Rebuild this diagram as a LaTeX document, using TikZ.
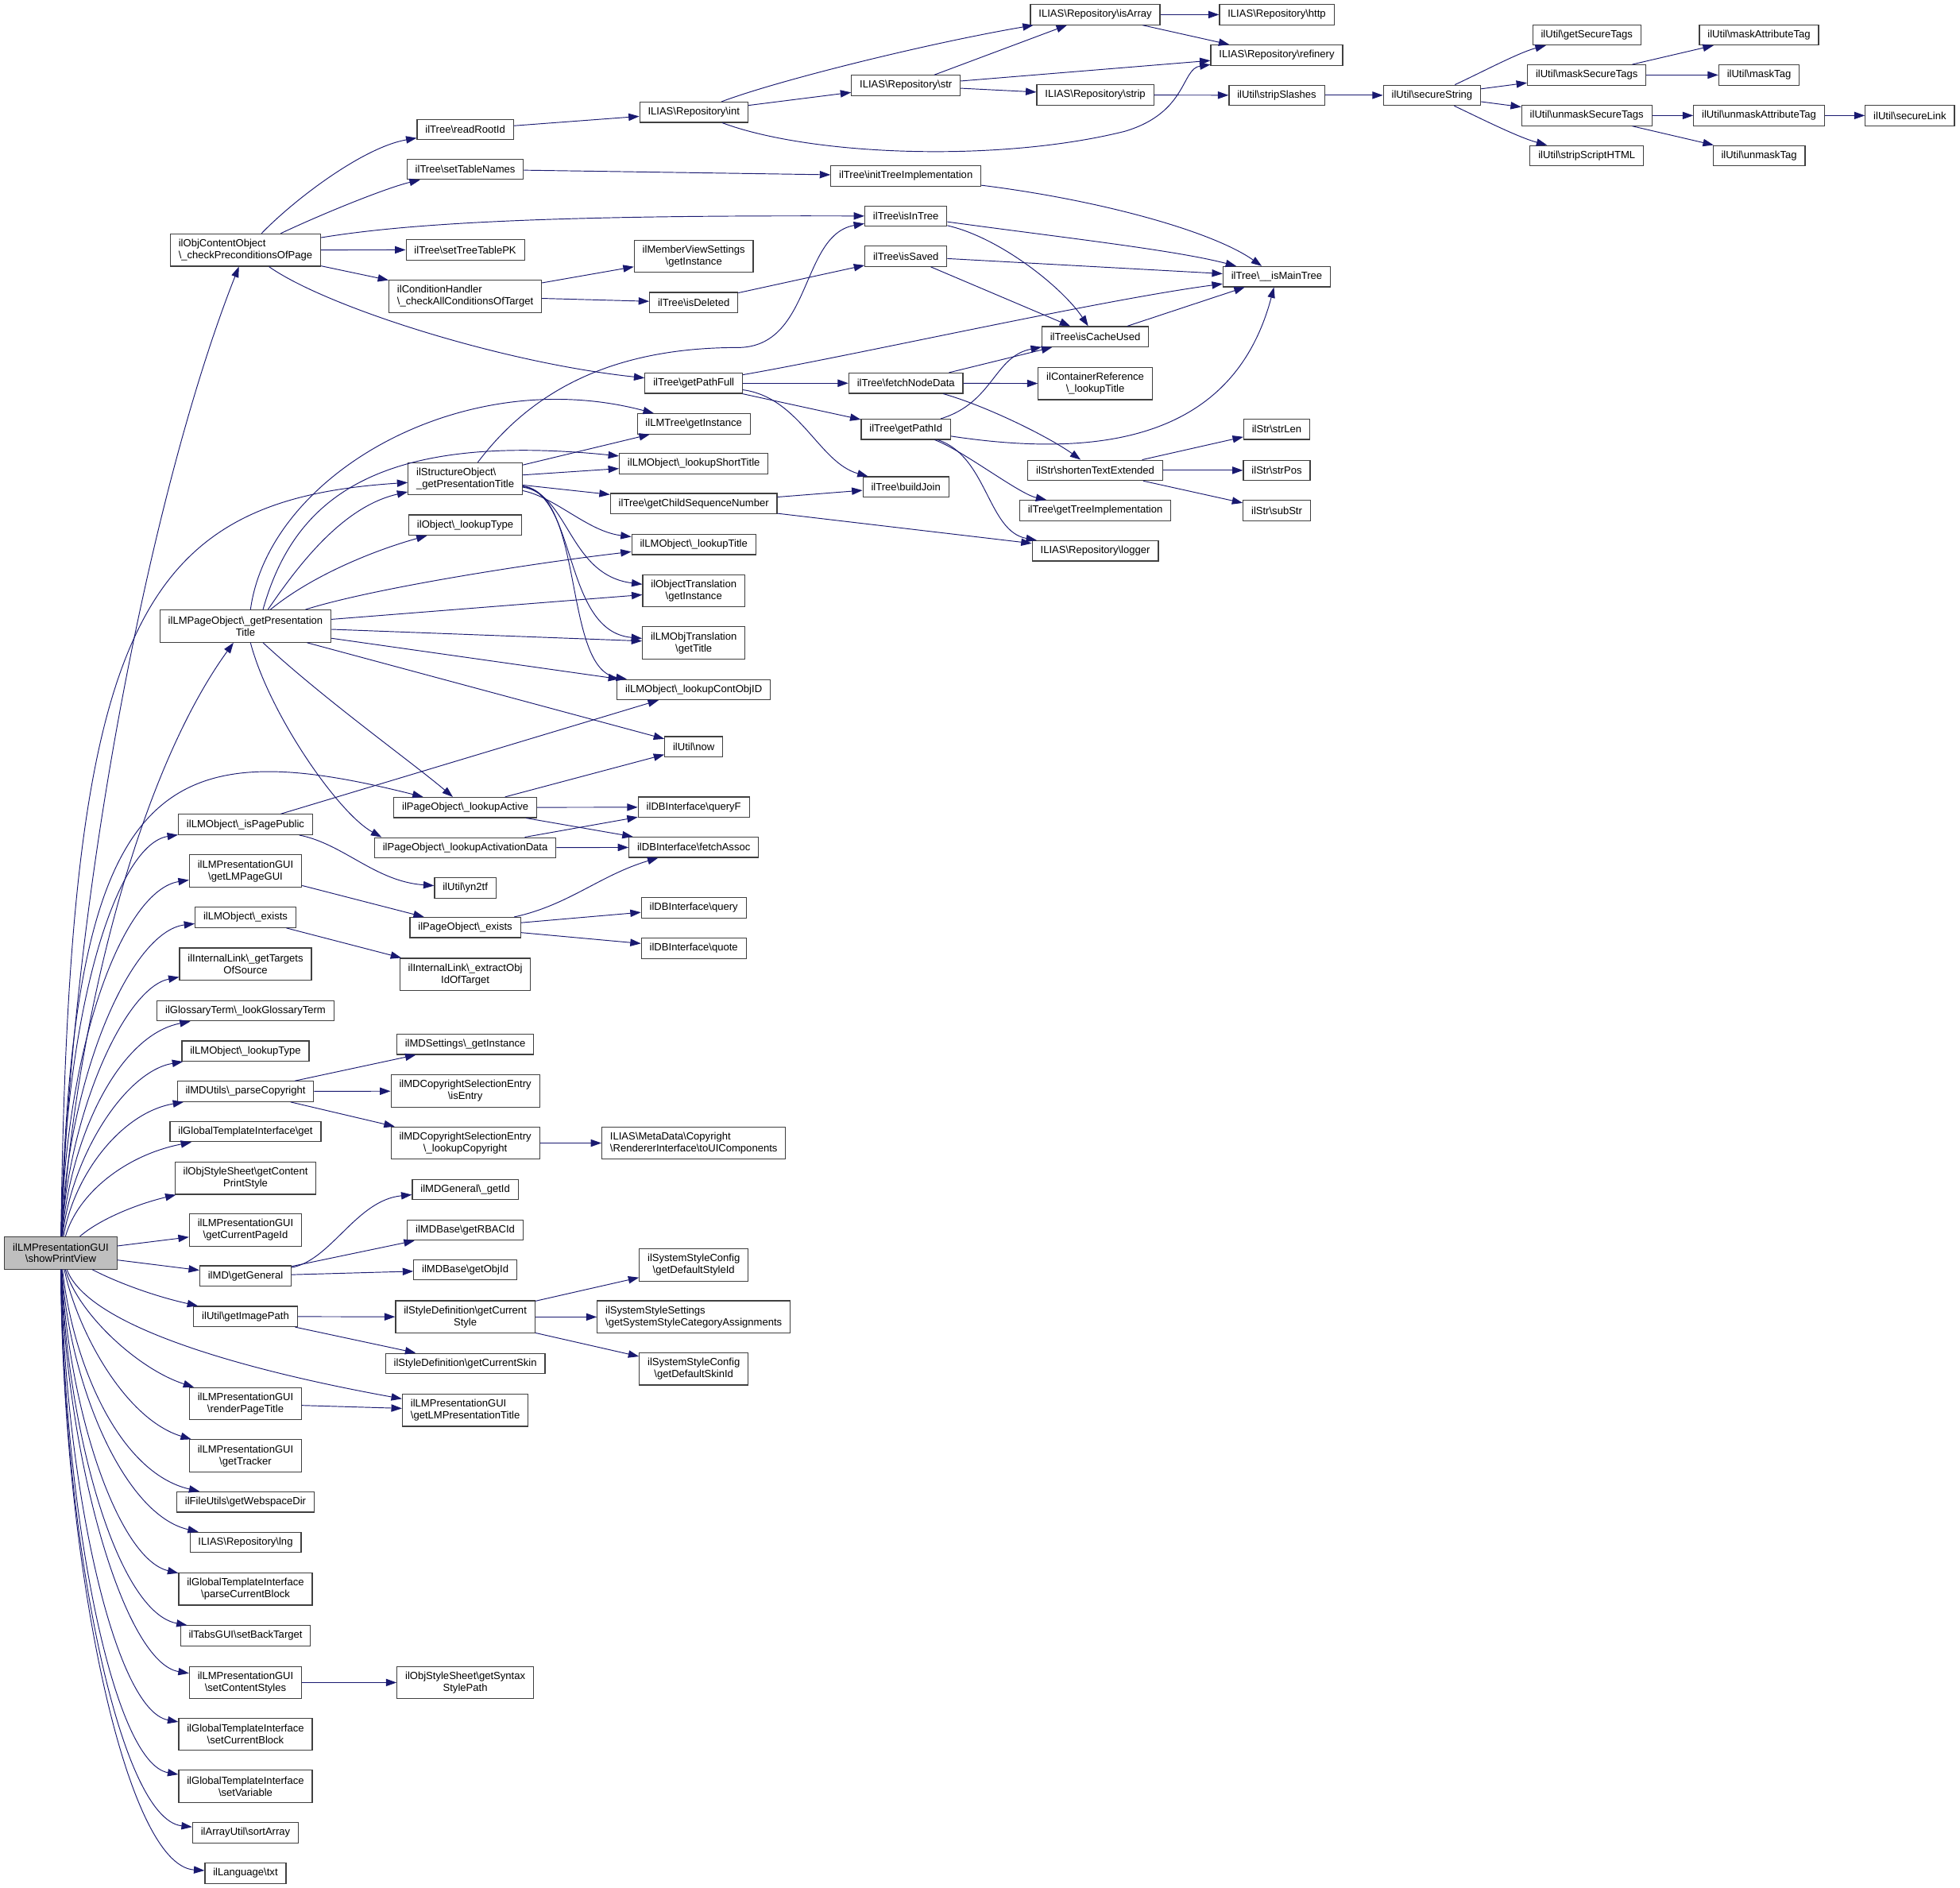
\documentclass[tikz,border=0pt]{standalone}
\usepackage{fontspec}
\setmainfont{Liberation Sans}
\usetikzlibrary{arrows.meta}
\definecolor{edgeblue}{HTML}{191970}
\definecolor{boxline}{HTML}{404040}
\definecolor{rootgray}{HTML}{BFBFBF}
\newcommand{\bsl}{\textbackslash}

\begin{document}
\begin{tikzpicture}[x=1pt,y=-1pt,
  fnbox/.style={draw=boxline,line width=0.75pt,fill=white,align=center,inner xsep=6.6pt,inner ysep=2pt,minimum height=16.2pt,font=\fontsize{8.3}{9.5}\selectfont},
  fntwo/.style={fnbox,minimum height=25.8pt},
  callarr/.style={draw=edgeblue,line width=0.6pt,-{Triangle[length=8.5pt,width=5.9pt]}}]
  \useasboundingbox[fill=white] (0,0) rectangle (1568,1510);

  % caller
  \node[fntwo,fill=rootgray] (showPrintView) at (48.6,1002.2) {ilLMPresentationGUI\\\bsl showPrintView};

  % first level
  \node[fntwo,align=left] (checkPrecond) at (196.4,200) {ilObjContentObject\\\bsl\_checkPreconditionsOfPage};
  \node[fntwo] (getPresTitle) at (196.4,500.8) {ilLMPageObject\bsl\_getPresentation\\Title};
  \node[fnbox] (isPagePublic) at (196.4,659.5) {ilLMObject\bsl\_isPagePublic};
  \node[fntwo] (getLMPageGUI) at (196.4,696.7) {ilLMPresentationGUI\\\bsl getLMPageGUI};
  \node[fnbox] (lmExists) at (196.4,733.8) {ilLMObject\bsl\_exists};
  \node[fntwo] (getTargets) at (196.4,771.1) {ilInternalLink\bsl\_getTargets\\OfSource};
  \node[fnbox] (lookGlossary) at (196.4,808.5) {ilGlossaryTerm\bsl\_lookGlossaryTerm};
  \node[fnbox] (lmLookupType) at (196.4,840.7) {ilLMObject\bsl\_lookupType};
  \node[fnbox] (parseCopyright) at (196.4,873) {ilMDUtils\bsl\_parseCopyright};
  \node[fnbox] (tplGet) at (196.4,905.1) {ilGlobalTemplateInterface\bsl get};
  \node[fntwo] (printStyle) at (196.4,942.4) {ilObjStyleSheet\bsl getContent\\PrintStyle};
  \node[fntwo] (getCurPageId) at (196.4,983.9) {ilLMPresentationGUI\\\bsl getCurrentPageId};
  \node[fnbox] (getGeneral) at (196.4,1020.6) {ilMD\bsl getGeneral};
  \node[fnbox] (getImagePath) at (196.4,1053) {ilUtil\bsl getImagePath};
  \node[fntwo] (renderPageTitle) at (196.4,1122.8) {ilLMPresentationGUI\\\bsl renderPageTitle};
  \node[fntwo] (getTracker) at (196.4,1164.5) {ilLMPresentationGUI\\\bsl getTracker};
  \node[fnbox] (webspaceDir) at (196.4,1201.4) {ilFileUtils\bsl getWebspaceDir};
  \node[fnbox] (lng) at (196.4,1233.7) {ILIAS\bsl Repository\bsl lng};
  \node[fntwo] (parseBlock) at (196.4,1271) {ilGlobalTemplateInterface\\\bsl parseCurrentBlock};
  \node[fnbox] (setBackTarget) at (196.4,1308.4) {ilTabsGUI\bsl setBackTarget};
  \node[fntwo] (setContentStyles) at (196.4,1345.8) {ilLMPresentationGUI\\\bsl setContentStyles};
  \node[fntwo] (setCurBlock) at (196.4,1387.1) {ilGlobalTemplateInterface\\\bsl setCurrentBlock};
  \node[fntwo] (setVariable) at (196.4,1428.8) {ilGlobalTemplateInterface\\\bsl setVariable};
  \node[fnbox] (sortArray) at (196.4,1465.9) {ilArrayUtil\bsl sortArray};
  \node[fnbox] (txt) at (196.4,1498.3) {ilLanguage\bsl txt};

  % second level
  \node[fnbox] (readRootId) at (372.2,103.5) {ilTree\bsl readRootId};
  \node[fnbox] (setTableNames) at (372.2,135.4) {ilTree\bsl setTableNames};
  \node[fnbox] (setTreeTablePK) at (372.2,199.8) {ilTree\bsl setTreeTablePK};
  \node[fntwo,align=left] (checkAllCond) at (372.2,237) {ilConditionHandler\\\bsl\_checkAllConditionsOfTarget};
  \node[fntwo,align=left] (structTitle) at (372.2,383) {ilStructureObject\bsl\\\_getPresentationTitle};
  \node[fnbox] (objLookupType) at (372.2,420) {ilObject\bsl\_lookupType};
  \node[fnbox] (lookupActive) at (372.2,645.9) {ilPageObject\bsl\_lookupActive};
  \node[fnbox] (lookupActData) at (372.2,678.1) {ilPageObject\bsl\_lookupActivationData};
  \node[fnbox] (yn2tf) at (372.2,710.2) {ilUtil\bsl yn2tf};
  \node[fnbox] (pageExists) at (372.2,741.9) {ilPageObject\bsl\_exists};
  \node[fntwo] (extractObj) at (372.2,779.4) {ilInternalLink\bsl\_extractObj\\IdOfTarget};
  \node[fnbox] (mdSettings) at (372.2,835.3) {ilMDSettings\bsl\_getInstance};
  \node[fntwo] (isEntry) at (372.2,872.7) {ilMDCopyrightSelectionEntry\\\bsl isEntry};
  \node[fntwo] (lookupCopyright) at (372.2,914.3) {ilMDCopyrightSelectionEntry\\\bsl\_lookupCopyright};
  \node[fnbox] (mdGetId) at (372.2,951.4) {ilMDGeneral\bsl\_getId};
  \node[fnbox] (getRBACId) at (372.2,983.9) {ilMDBase\bsl getRBACId};
  \node[fnbox] (getObjId) at (372.2,1015.7) {ilMDBase\bsl getObjId};
  \node[fntwo] (getCurStyle) at (372.2,1053.4) {ilStyleDefinition\bsl getCurrent\\Style};
  \node[fnbox] (getCurSkin) at (372.2,1090.6) {ilStyleDefinition\bsl getCurrentSkin};
  \node[fntwo,align=left] (getLMPresTitle) at (372.2,1128) {ilLMPresentationGUI\\\bsl getLMPresentationTitle};
  \node[fntwo] (syntaxPath) at (372.2,1345.8) {ilObjStyleSheet\bsl getSyntax\\StylePath};

  % third level
  \node[fnbox] (repoInt) at (555,89.8) {ILIAS\bsl Repository\bsl int};
  \node[fntwo] (memberView) at (555,205) {ilMemberViewSettings\\\bsl getInstance};
  \node[fnbox] (isDeleted) at (555,242) {ilTree\bsl isDeleted};
  \node[fnbox] (getPathFull) at (555,306.5) {ilTree\bsl getPathFull};
  \node[fnbox] (lmTreeInst) at (555,339) {ilLMTree\bsl getInstance};
  \node[fnbox] (lookupShort) at (555,370.8) {ilLMObject\bsl\_lookupShortTitle};
  \node[fnbox] (childSeq) at (555,402.8) {ilTree\bsl getChildSequenceNumber};
  \node[fnbox] (lookupTitle) at (555,435.5) {ilLMObject\bsl\_lookupTitle};
  \node[fntwo] (objTransInst) at (555,472.5) {ilObjectTranslation\\\bsl getInstance};
  \node[fntwo] (lmObjTransTitle) at (555,514.3) {ilLMObjTranslation\\\bsl getTitle};
  \node[fnbox] (lookupContObj) at (555,551.6) {ilLMObject\bsl\_lookupContObjID};
  \node[fnbox] (now) at (555,597.3) {ilUtil\bsl now};
  \node[fnbox] (queryF) at (555,645.6) {ilDBInterface\bsl queryF};
  \node[fnbox] (fetchAssoc) at (555,677.7) {ilDBInterface\bsl fetchAssoc};
  \node[fnbox] (query) at (555,726.1) {ilDBInterface\bsl query};
  \node[fnbox] (quote) at (555,758.5) {ilDBInterface\bsl quote};
  \node[fntwo,align=left] (toUIComp) at (555,914.3) {ILIAS\bsl MetaData\bsl Copyright\\\bsl RendererInterface\bsl toUIComponents};
  \node[fntwo] (defStyleId) at (555,1011.9) {ilSystemStyleConfig\\\bsl getDefaultStyleId};
  \node[fntwo,align=left] (catAssign) at (555,1053.4) {ilSystemStyleSettings\\\bsl getSystemStyleCategoryAssignments};
  \node[fntwo] (defSkinId) at (555,1094.9) {ilSystemStyleConfig\\\bsl getDefaultSkinId};

  % fourth level
  \node[fnbox] (repoStr) at (724.7,68.4) {ILIAS\bsl Repository\bsl str};
  \node[fnbox] (initTreeImpl) at (724.7,140.7) {ilTree\bsl initTreeImplementation};
  \node[fnbox] (isInTree) at (724.7,172.9) {ilTree\bsl isInTree};
  \node[fnbox] (isSaved) at (724.7,205) {ilTree\bsl isSaved};
  \node[fnbox] (fetchNode) at (724.7,306.5) {ilTree\bsl fetchNodeData};
  \node[fnbox] (getPathId) at (724.7,343.4) {ilTree\bsl getPathId};
  \node[fnbox] (buildJoin) at (724.7,389.5) {ilTree\bsl buildJoin};

  % fifth level
  \node[fnbox] (isArray) at (876.2,11.7) {ILIAS\bsl Repository\bsl isArray};
  \node[fnbox] (repoStrip) at (876.2,76) {ILIAS\bsl Repository\bsl strip};
  \node[fnbox] (isCacheUsed) at (876.2,269.3) {ilTree\bsl isCacheUsed};
  \node[fntwo] (containerRef) at (876.2,306.8) {ilContainerReference\\\bsl\_lookupTitle};
  \node[fnbox] (shortenText) at (876.2,376.2) {ilStr\bsl shortenTextExtended};
  \node[fnbox] (treeImpl) at (876.2,408.3) {ilTree\bsl getTreeImplementation};
  \node[fnbox] (logger) at (876.2,440.6) {ILIAS\bsl Repository\bsl logger};

  % sixth level and beyond
  \node[fnbox] (http) at (1021.4,11.7) {ILIAS\bsl Repository\bsl http};
  \node[fnbox] (refinery) at (1021.4,44.1) {ILIAS\bsl Repository\bsl refinery};
  \node[fnbox] (stripSlashes) at (1021.4,76.2) {ilUtil\bsl stripSlashes};
  \node[fnbox] (isMainTree) at (1021.4,221.3) {ilTree\bsl\_\_isMainTree};
  \node[fnbox] (strLen) at (1021.4,343.4) {ilStr\bsl strLen};
  \node[fnbox] (strPos) at (1021.4,376.2) {ilStr\bsl strPos};
  \node[fnbox] (subStr) at (1021.4,408.3) {ilStr\bsl subStr};
  \node[fnbox] (secureString) at (1145.6,76.2) {ilUtil\bsl secureString};
  \node[fnbox] (getSecureTags) at (1269.4,27.9) {ilUtil\bsl getSecureTags};
  \node[fnbox] (maskSecureTags) at (1269.4,60) {ilUtil\bsl maskSecureTags};
  \node[fnbox] (unmaskSecureTags) at (1269.4,92.4) {ilUtil\bsl unmaskSecureTags};
  \node[fnbox] (stripScript) at (1269.4,124.5) {ilUtil\bsl stripScriptHTML};
  \node[fnbox] (maskAttrTag) at (1407.2,27.9) {ilUtil\bsl maskAttributeTag};
  \node[fnbox] (maskTag) at (1407.2,60) {ilUtil\bsl maskTag};
  \node[fnbox] (unmaskAttrTag) at (1407.2,92.4) {ilUtil\bsl unmaskAttributeTag};
  \node[fnbox] (unmaskTag) at (1407.2,124.5) {ilUtil\bsl unmaskTag};
  \node[fnbox] (secureLink) at (1527.9,92.4) {ilUtil\bsl secureLink};

  % calls from showPrintView
  \draw[callarr] (showPrintView) .. controls (58,700) and (125,380) .. (checkPrecond);
  \draw[callarr] (showPrintView) .. controls (55,500) and (110,400) .. (structTitle);
  \draw[callarr] (showPrintView) .. controls (60,820) and (110,620) .. (getPresTitle);
  \draw[callarr] (showPrintView) .. controls (58,620) and (130,585) .. (lookupActive);
  \draw[callarr] (showPrintView) .. controls (52,800) and (95,675) .. (isPagePublic);
  \draw[callarr] (showPrintView) .. controls (53,830) and (100,712) .. (getLMPageGUI);
  \draw[callarr] (showPrintView) .. controls (54,860) and (105,745) .. (lmExists);
  \draw[callarr] (showPrintView) .. controls (55,890) and (100,790) .. (getTargets);
  \draw[callarr] (showPrintView) .. controls (56,910) and (95,828) .. (lookGlossary);
  \draw[callarr] (showPrintView) .. controls (57,925) and (100,857) .. (lmLookupType);
  \draw[callarr] (showPrintView) .. controls (59,940) and (97,890) .. (parseCopyright);
  \draw[callarr] (showPrintView) .. controls (62,955) and (100,924) .. (tplGet);
  \draw[callarr] (showPrintView) .. controls (80,975) and (110,963) .. (printStyle);
  \draw[callarr] (showPrintView) -- (getCurPageId);
  \draw[callarr] (showPrintView) -- (getGeneral);
  \draw[callarr] (showPrintView) .. controls (90,1024) and (120,1036) .. (getImagePath);
  \draw[callarr] (showPrintView) .. controls (70,1060) and (190,1095) .. (getLMPresTitle);
  \draw[callarr] (showPrintView) .. controls (62,1050) and (110,1095) .. (renderPageTitle);
  \draw[callarr] (showPrintView) .. controls (62,1065) and (100,1135) .. (getTracker);
  \draw[callarr] (showPrintView) .. controls (58,1090) and (95,1178) .. (webspaceDir);
  \draw[callarr] (showPrintView) .. controls (56,1110) and (100,1212) .. (lng);
  \draw[callarr] (showPrintView) .. controls (55,1130) and (95,1247) .. (parseBlock);
  \draw[callarr] (showPrintView) .. controls (54,1150) and (95,1290) .. (setBackTarget);
  \draw[callarr] (showPrintView) .. controls (53,1170) and (100,1330) .. (setContentStyles);
  \draw[callarr] (showPrintView) .. controls (52,1190) and (92,1368) .. (setCurBlock);
  \draw[callarr] (showPrintView) .. controls (51,1210) and (90,1410) .. (setVariable);
  \draw[callarr] (showPrintView) .. controls (50,1230) and (95,1455) .. (sortArray);
  \draw[callarr] (showPrintView) .. controls (50,1250) and (100,1492) .. (txt);

  % checkPreconditionsOfPage
  \draw[callarr] (checkPrecond) .. controls (235,160) and (290,118) .. (readRootId);
  \draw[callarr] (checkPrecond) .. controls (260,170) and (310,150) .. (setTableNames);
  \draw[callarr] (checkPrecond) .. controls (330,178) and (450,172) .. (isInTree);
  \draw[callarr] (checkPrecond) -- (setTreeTablePK);
  \draw[callarr] (checkPrecond) -- (checkAllCond);
  \draw[callarr] (checkPrecond) .. controls (260,245) and (400,290) .. (getPathFull);
  \draw[callarr] (readRootId) -- (repoInt);
  \draw[callarr] (setTableNames) -- (initTreeImpl);
  \draw[callarr] (checkAllCond) -- (memberView);
  \draw[callarr] (checkAllCond) -- (isDeleted);
  \draw[callarr] (isDeleted) -- (isSaved);

  % repository helpers
  \draw[callarr] (repoInt) .. controls (620,65) and (740,35) .. (isArray);
  \draw[callarr] (repoInt) -- (repoStr);
  \draw[callarr] (repoInt) .. controls (650,125) and (800,130) .. (900,105) .. controls (950,90) and (945,55) .. (refinery);
  \draw[callarr] (repoStr) -- (isArray);
  \draw[callarr] (repoStr) -- (refinery);
  \draw[callarr] (repoStr) -- (repoStrip);
  \draw[callarr] (isArray) -- (http);
  \draw[callarr] (isArray) -- (refinery);
  \draw[callarr] (repoStrip) -- (stripSlashes);
  \draw[callarr] (stripSlashes) -- (secureString);
  \draw[callarr] (secureString) .. controls (1185,58) and (1215,42) .. (getSecureTags);
  \draw[callarr] (secureString) -- (maskSecureTags);
  \draw[callarr] (secureString) -- (unmaskSecureTags);
  \draw[callarr] (secureString) .. controls (1185,95) and (1215,110) .. (stripScript);
  \draw[callarr] (maskSecureTags) -- (maskAttrTag);
  \draw[callarr] (maskSecureTags) -- (maskTag);
  \draw[callarr] (unmaskSecureTags) -- (unmaskAttrTag);
  \draw[callarr] (unmaskSecureTags) -- (unmaskTag);
  \draw[callarr] (unmaskAttrTag) -- (secureLink);

  % tree
  \draw[callarr] (initTreeImpl) .. controls (880,160) and (970,185) .. (isMainTree);
  \draw[callarr] (isInTree) .. controls (850,190) and (940,200) .. (isMainTree);
  \draw[callarr] (isInTree) .. controls (800,190) and (850,230) .. (isCacheUsed);
  \draw[callarr] (isSaved) -- (isMainTree);
  \draw[callarr] (isSaved) -- (isCacheUsed);
  \draw[callarr] (isCacheUsed) -- (isMainTree);
  \draw[callarr] (getPathFull) .. controls (680,285) and (880,240) .. (isMainTree);
  \draw[callarr] (getPathFull) -- (fetchNode);
  \draw[callarr] (getPathFull) -- (getPathId);
  \draw[callarr] (getPathFull) .. controls (640,318) and (655,370) .. (buildJoin);
  \draw[callarr] (fetchNode) -- (isCacheUsed);
  \draw[callarr] (fetchNode) -- (containerRef);
  \draw[callarr] (fetchNode) .. controls (790,325) and (840,350) .. (shortenText);
  \draw[callarr] (getPathId) .. controls (795,322) and (795,285) .. (isCacheUsed);
  \draw[callarr] (getPathId) .. controls (900,370) and (990,340) .. (isMainTree);
  \draw[callarr] (getPathId) .. controls (770,360) and (815,395) .. (treeImpl);
  \draw[callarr] (getPathId) .. controls (790,365) and (790,425) .. (logger);
  \draw[callarr] (shortenText) -- (strLen);
  \draw[callarr] (shortenText) -- (strPos);
  \draw[callarr] (shortenText) -- (subStr);
  \draw[callarr] (childSeq) -- (buildJoin);
  \draw[callarr] (childSeq) -- (logger);

  % structure object
  \draw[callarr] (structTitle) .. controls (420,320) and (480,278) .. (590,278) .. controls (650,278) and (640,188) .. (isInTree);
  \draw[callarr] (structTitle) -- (lmTreeInst);
  \draw[callarr] (structTitle) -- (lookupShort);
  \draw[callarr] (structTitle) -- (childSeq);
  \draw[callarr] (structTitle) .. controls (445,398) and (470,425) .. (lookupTitle);
  \draw[callarr] (structTitle) .. controls (455,395) and (455,460) .. (objTransInst);
  \draw[callarr] (structTitle) .. controls (462,395) and (450,505) .. (lmObjTransTitle);
  \draw[callarr] (structTitle) .. controls (468,395) and (450,535) .. (lookupContObj);

  % page object title
  \draw[callarr] ([xshift=4pt]getPresTitle.north) .. controls (215,380) and (370,290) .. (lmTreeInst);
  \draw[callarr] ([xshift=14pt]getPresTitle.north) .. controls (235,400) and (300,345) .. (lookupShort);
  \draw[callarr] ([xshift=18pt]getPresTitle.north) .. controls (240,450) and (275,405) .. (structTitle);
  \draw[callarr] ([xshift=20pt]getPresTitle.north) .. controls (250,460) and (300,440) .. (objLookupType);
  \draw[callarr] ([xshift=48pt]getPresTitle.north) .. controls (300,470) and (430,450) .. (lookupTitle);
  \draw[callarr] (getPresTitle) -- (objTransInst);
  \draw[callarr] (getPresTitle) -- (lmObjTransTitle);
  \draw[callarr] (getPresTitle) -- (lookupContObj);
  \draw[callarr] (getPresTitle) -- (now);
  \draw[callarr] ([xshift=14pt]getPresTitle.south) .. controls (260,560) and (330,610) .. (lookupActive);
  \draw[callarr] ([xshift=4pt]getPresTitle.south) .. controls (215,570) and (270,650) .. ([xshift=6pt]lookupActData.north west);

  % page objects and db
  \draw[callarr] (isPagePublic) -- (lookupContObj);
  \draw[callarr] (isPagePublic) .. controls (275,675) and (300,705) .. (yn2tf);
  \draw[callarr] (lookupActive) -- (now);
  \draw[callarr] (lookupActive) -- (queryF);
  \draw[callarr] (lookupActive) -- (fetchAssoc);
  \draw[callarr] (lookupActData) -- (queryF);
  \draw[callarr] (lookupActData) -- (fetchAssoc);
  \draw[callarr] (getLMPageGUI) -- (pageExists);
  \draw[callarr] (pageExists) .. controls (455,724) and (480,700) .. (fetchAssoc);
  \draw[callarr] (pageExists) -- (query);
  \draw[callarr] (pageExists) -- (quote);
  \draw[callarr] (lmExists) -- (extractObj);

  % metadata and styles
  \draw[callarr] (parseCopyright) -- (mdSettings);
  \draw[callarr] (parseCopyright) -- (isEntry);
  \draw[callarr] (parseCopyright) -- (lookupCopyright);
  \draw[callarr] (lookupCopyright) -- (toUIComp);
  \draw[callarr] (getGeneral) .. controls (265,1008) and (285,960) .. (mdGetId);
  \draw[callarr] (getGeneral) -- (getRBACId);
  \draw[callarr] (getGeneral) -- (getObjId);
  \draw[callarr] (getImagePath) -- (getCurStyle);
  \draw[callarr] (getImagePath) -- (getCurSkin);
  \draw[callarr] (getCurStyle) -- (defStyleId);
  \draw[callarr] (getCurStyle) -- (catAssign);
  \draw[callarr] (getCurStyle) -- (defSkinId);
  \draw[callarr] (renderPageTitle) -- (getLMPresTitle);
  \draw[callarr] (setContentStyles) -- (syntaxPath);
\end{tikzpicture}
\end{document}
